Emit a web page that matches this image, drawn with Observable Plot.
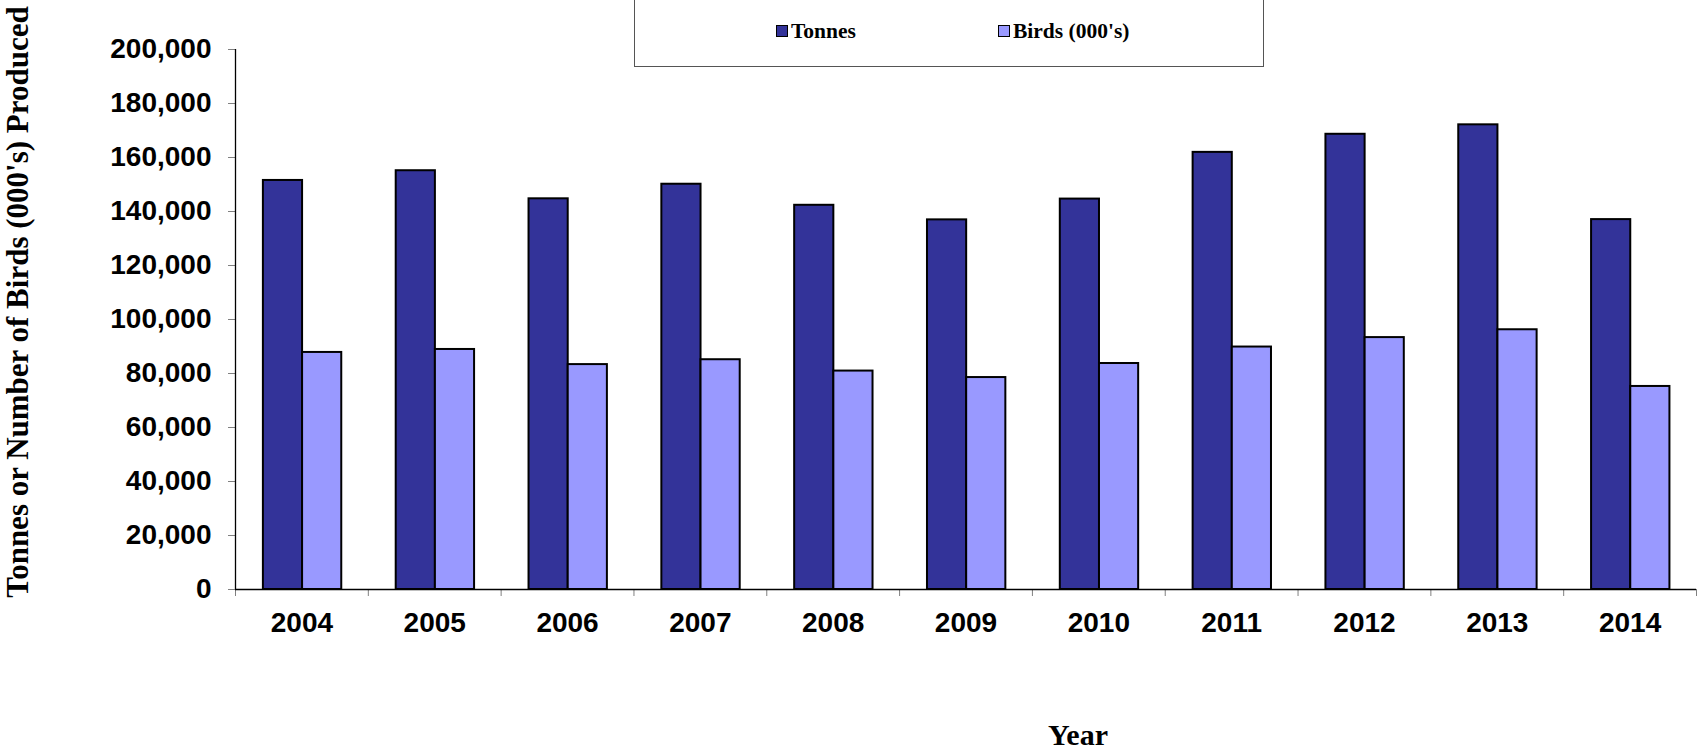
<!DOCTYPE html>
<html>
<head>
<meta charset="utf-8">
<script src="https://cdn.jsdelivr.net/npm/d3@7"></script>
<script src="https://cdn.jsdelivr.net/npm/@observablehq/plot@0.6"></script>
<style>
  html, body { margin: 0; padding: 0; background: #fff; }
  #wrap { position: relative; width: 1697px; height: 750px; overflow: hidden; }
  #chart { position: absolute; left: 0; top: 0; }
  .serif { font-family: "Liberation Serif", "Times New Roman", serif; font-weight: bold; color: #000; }
  #legend { position: absolute; left: 634px; top: -2px; width: 630px; height: 69px; border: 1px solid #555; box-sizing: border-box; background: #fff; }
  .item { position: absolute; top: 20px; font-size: 21.5px; line-height: 24px; white-space: nowrap; }
  .sw { display: inline-block; width: 10px; height: 10px; border: 1.5px solid #000; vertical-align: 1px; margin-right: 3px; }
  #ytitle { position: absolute; left: 18px; top: 302px; font-size: 31px; white-space: nowrap; transform: translate(-50%, -50%) rotate(-90deg); }
  #xtitle { position: absolute; left: 1078px; top: 735px; font-size: 30px; white-space: nowrap; transform: translate(-50%, -50%); }
</style>
</head>
<body>
<div id="wrap">
  <div id="chart"></div>
  <div id="legend" class="serif"></div>
  <div id="ytitle" class="serif"></div>
  <div id="xtitle" class="serif"></div>
</div>
<script>
// ---- data ----
const years = ["2004", "2005", "2006", "2007", "2008", "2009", "2010", "2011", "2012", "2013", "2014"];
const tonnes = [151500, 155100, 144700, 150100, 142300, 136900, 144600, 161900, 168600, 172100, 137000];
const birds = [87800, 88900, 83300, 85100, 80900, 78500, 83700, 89800, 93300, 96200, 75200];
const seriesNames = ["Tonnes", "Birds (000's)"];
const seriesColors = ["#333399", "#9999FF"];
const yTicks = [0, 20000, 40000, 60000, 80000, 100000, 120000, 140000, 160000, 180000, 200000];
const yTitle = "Tonnes or Number of Birds (000's) Produced";
const xTitle = "Year";

// ---- table built from arrays ----
const rowsT = years.map((y, i) => ({i, year: y, series: seriesNames[0], value: tonnes[i]}));
const rowsB = years.map((y, i) => ({i, year: y, series: seriesNames[1], value: birds[i]}));

// position of each series bar within a year's slot (fraction of the slot)
const slot = [[0.21, 0.505], [0.505, 0.80]];

const boldSans = {fontFamily: "Liberation Sans, Arial, sans-serif", fontWeight: "bold", fontSize: 28};

const chart = Plot.plot({
  width: 1697,
  height: 750,
  marginLeft: 235,
  marginRight: 1,
  marginTop: 49,
  marginBottom: 161,
  style: {background: "white", color: "black", overflow: "visible"},
  x: {type: "linear", domain: [0, years.length], axis: null},
  y: {domain: [0, 200000], axis: null},
  marks: [
    Plot.rectY(rowsT, {x1: d => d.i + slot[0][0], x2: d => d.i + slot[0][1], y1: 0, y2: "value",
      fill: seriesColors[0], stroke: "black", strokeWidth: 2}),
    Plot.rectY(rowsB, {x1: d => d.i + slot[1][0], x2: d => d.i + slot[1][1], y1: 0, y2: "value",
      fill: seriesColors[1], stroke: "black", strokeWidth: 2}),
    // y axis
    Plot.axisY({ticks: yTicks, tickFormat: d3.format(","), tickSize: 7, tickPadding: 17,
      stroke: "#808080", fill: "black", label: null, ...boldSans}),
    // x axis boundary ticks
    Plot.axisX({ticks: d3.range(0, years.length + 1), tickSize: 7, tickFormat: () => "",
      stroke: "#808080", label: null}),
    // x axis year labels
    Plot.axisX({ticks: years.map((_, i) => i + 0.5), tickFormat: v => years[Math.floor(v)],
      tickSize: 0, tickPadding: 23, fill: "black", label: null, ...boldSans}),
    Plot.ruleX([0], {stroke: "black", strokeWidth: 1.3}),
    Plot.ruleY([0], {stroke: "black", strokeWidth: 1.3})
  ]
});
document.getElementById("chart").appendChild(chart);

// legend
const legend = document.getElementById("legend");
const lefts = [141, 363];
seriesNames.forEach((name, k) => {
  const item = document.createElement("div");
  item.className = "item";
  item.style.left = lefts[k] + "px";
  const sw = document.createElement("span");
  sw.className = "sw";
  sw.style.background = seriesColors[k];
  item.appendChild(sw);
  item.appendChild(document.createTextNode(name));
  legend.appendChild(item);
});
document.getElementById("ytitle").textContent = yTitle;
document.getElementById("xtitle").textContent = xTitle;
</script>
</body>
</html>
